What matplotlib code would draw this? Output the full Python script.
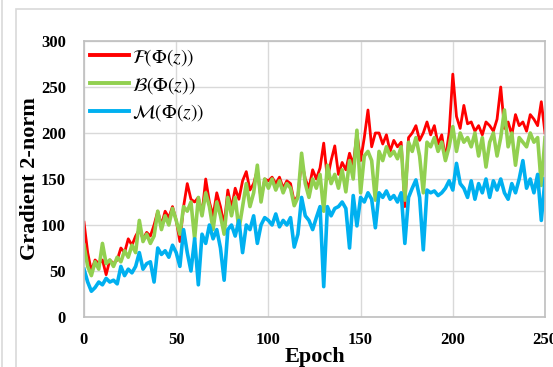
import numpy as np
import matplotlib.pyplot as plt
from matplotlib.patches import Rectangle
from matplotlib.lines import Line2D

##### data (every 2 epochs) #####
epochs = np.arange(0, 251, 2)

f_vals = [103, 70, 50, 62, 58,
          62, 46, 62, 58, 62,
          75, 70, 85, 78, 88,
          95, 85, 92, 88, 100,
          115, 100, 115, 108, 120,
          105, 82, 120, 145, 128,
          125, 130, 112, 150, 125,
          110, 135, 120, 100, 138,
          118, 140, 128, 148, 158,
          138, 145, 160, 128, 150,
          148, 152, 145, 152, 140,
          148, 145, 125, 132, 170,
          150, 140, 160, 150, 162,
          189, 150, 170, 186, 155,
          168, 160, 178, 165, 200,
          170, 195, 225, 185, 200,
          200, 188, 198, 180, 192,
          185, 190, 120, 195, 200,
          208, 192, 200, 212, 198,
          208, 188, 198, 172, 200,
          264, 218, 205, 230, 210,
          212, 202, 208, 198, 212,
          208, 202, 215, 250, 205,
          212, 198, 220, 208, 212,
          202, 220, 215, 208, 234,
          200]

b_vals = [78, 55, 45, 60, 52,
          80, 58, 62, 55, 65,
          60, 72, 65, 78, 70,
          105, 82, 90, 80, 88,
          115, 95, 110, 100, 118,
          105, 90, 120, 115, 125,
          85, 130, 110, 135, 120,
          95, 125, 110, 90, 130,
          110, 130, 95, 120, 145,
          120, 135, 165, 125, 150,
          140, 150, 138, 148, 135,
          145, 140, 121, 130, 178,
          145, 130, 150, 140, 155,
          115, 165, 145, 155, 140,
          160, 136, 170, 150, 203,
          135, 175, 180, 170, 127,
          180, 170, 185, 175, 180,
          172, 185, 127, 190, 180,
          195, 175, 135, 190, 185,
          195, 180, 190, 170, 185,
          207, 180, 200, 190, 195,
          185, 200, 175, 195, 163,
          190, 200, 175, 195, 225,
          185, 200, 165, 195, 190,
          185, 200, 190, 195, 143,
          195]

m_vals = [52, 38, 28, 32, 38,
          35, 42, 38, 40, 36,
          55, 45, 52, 48, 55,
          70, 52, 58, 60, 38,
          75, 68, 72, 65, 78,
          70, 55, 95, 70, 50,
          85, 35, 90, 80, 100,
          85, 95, 75, 40, 95,
          100, 88, 105, 70, 100,
          95, 110, 80, 100, 108,
          105, 100, 112, 98, 105,
          100, 108, 76, 90, 130,
          110, 105, 95, 108, 120,
          33, 120, 110, 118, 120,
          125, 118, 75, 132, 99,
          130, 125, 135, 128, 97,
          135, 130, 137, 128, 132,
          125, 135, 80, 130, 140,
          149, 130, 73, 138, 135,
          137, 132, 135, 140, 148,
          138, 167, 145, 140, 130,
          148, 128, 145, 135, 150,
          130, 148, 138, 150, 135,
          128, 145, 135, 150, 170,
          140, 150, 135, 155, 105,
          150]

labels = [r'$\mathcal{F}(\Phi(z))$', r'$\mathcal{B}(\Phi(z))$', r'$\mathcal{M}(\Phi(z))$']
colors = ['#ff0000', '#92d050', '#00b0f0']

plt.rcParams['mathtext.fontset'] = 'stix'
plt.rcParams['font.family'] = 'Liberation Serif'

fig = plt.figure(figsize=(5.53, 3.67), dpi=100)
ax = fig.add_axes([84/553, 1-317/367, 461/553, 276/367])

# outer frame of the chart box
fig.patches.append(Rectangle((16/553, -0.1), 1.2, 1-9/367+0.1, transform=fig.transFigure,
                             fill=False, edgecolor='#d9d9d9', lw=1.2))
fig.add_artist(Line2D([2/553, 2/553], [0, 1], transform=fig.transFigure, color='#d9d9d9', lw=1.2))

ax.plot(epochs, f_vals, color=colors[0], lw=2.0, label=labels[0])
ax.plot(epochs, b_vals, color=colors[1], lw=2.6, label=labels[1])
ax.plot(epochs, m_vals, color=colors[2], lw=2.6, label=labels[2])

ax.set_xlim(0, 250)
ax.set_ylim(0, 300)
ax.set_xticks([0, 50, 100, 150, 200, 250])
ax.set_yticks([0, 50, 100, 150, 200, 250, 300])
ax.grid(True, color='#d9d9d9', lw=1.0)
ax.set_axisbelow(True)
for s in ax.spines.values():
    s.set_color('#bfbfbf')
    s.set_linewidth(1.2)
ax.tick_params(length=0, labelsize=12)
ax.tick_params(axis='x', pad=11)
ax.tick_params(axis='y', pad=13)
for t in ax.get_xticklabels() + ax.get_yticklabels():
    t.set_fontweight('bold')

ax.set_xlabel('Epoch', fontsize=16, fontweight='bold', labelpad=-1)
ax.set_ylabel('Gradient 2-norm', fontsize=16, fontweight='bold', labelpad=1)

leg = ax.legend(loc='upper left', frameon=False, fontsize=14, handlelength=2.0,
                handletextpad=0.15, labelspacing=0.35, borderaxespad=0.1, borderpad=0.2)
for h in leg.get_lines():
    h.set_linewidth(2.8)

fig.savefig('out.png', dpi=100)
